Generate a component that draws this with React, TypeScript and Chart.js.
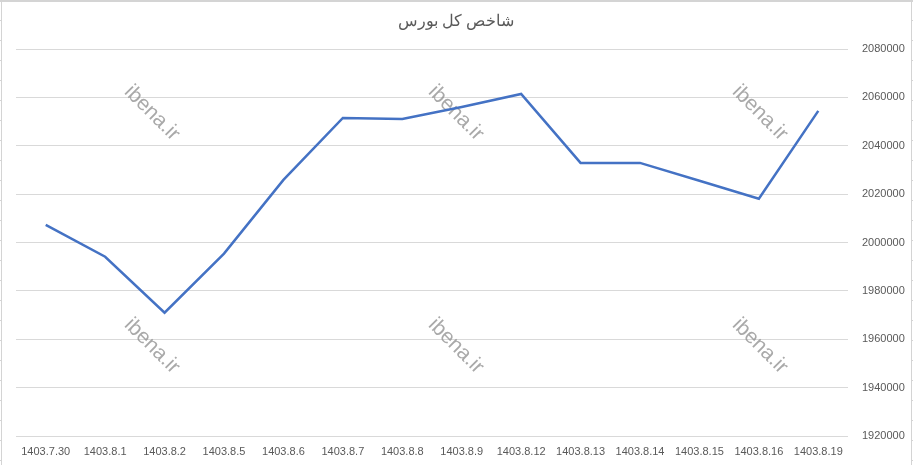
import React, { useEffect, useRef } from "react";
import { Chart, registerables } from "chart.js";

Chart.register(...registerables);

const categories = [
  "1403.7.30", "1403.8.1", "1403.8.2", "1403.8.5", "1403.8.6", "1403.8.7", "1403.8.8",
  "1403.8.9", "1403.8.12", "1403.8.13", "1403.8.14", "1403.8.15", "1403.8.16", "1403.8.19",
];
const indexValues = [
  2007300, 1994100, 1971000, 1995400, 2025900, 2051500, 2051100,
  2056000, 2061400, 2032900, 2032900, 2025500, 2018100, 2054400,
];
const chartTitle = "شاخص کل بورس";
const watermarkText = "ibena.ir";
const yMin = 1920000;
const yMax = 2080000;
const yStep = 20000;

const FONT = "'Liberation Sans', Arial, sans-serif";

const decorPlugin = {
  id: "decor",
  beforeDatasetsDraw(chart: any) {
    const ctx = chart.ctx;
    const spots = [
      [152, 113], [456, 113], [760, 113],
      [152, 346], [456, 346], [760, 346],
    ];
    ctx.save();
    ctx.fillStyle = "rgba(140,140,140,0.75)";
    ctx.font = `21px ${FONT}`;
    ctx.textAlign = "center";
    ctx.textBaseline = "middle";
    for (const [x, y] of spots) {
      ctx.save();
      ctx.translate(x, y);
      ctx.rotate(Math.PI / 4);
      ctx.fillText(watermarkText, 0, 0);
      ctx.restore();
    }
    ctx.restore();
  },
  afterDraw(chart: any) {
    const ctx = chart.ctx;
    const w = chart.width;
    const h = chart.height;
    ctx.save();
    // title
    ctx.fillStyle = "#595959";
    ctx.font = `16px ${FONT}`;
    ctx.textAlign = "center";
    ctx.textBaseline = "middle";
    ctx.fillText(chartTitle, 456, 22);
    // sheet border
    ctx.strokeStyle = "#d4d4d4";
    ctx.lineWidth = 2;
    ctx.beginPath();
    ctx.moveTo(0, 1);
    ctx.lineTo(w, 1);
    ctx.stroke();
    ctx.lineWidth = 1;
    ctx.beginPath();
    ctx.moveTo(1.5, 0);
    ctx.lineTo(1.5, h);
    ctx.moveTo(w - 1.5, 0);
    ctx.lineTo(w - 1.5, h);
    for (let y = 20.5; y < h; y += 20) {
      ctx.moveTo(0, y);
      ctx.lineTo(2, y);
      ctx.moveTo(w - 2, y);
      ctx.lineTo(w, y);
    }
    ctx.stroke();
    ctx.restore();
  },
};

export default function App() {
  const ref = useRef<HTMLCanvasElement | null>(null);

  useEffect(() => {
    if (!ref.current) return;
    const chart = new Chart(ref.current, {
      type: "line",
      data: {
        labels: categories,
        datasets: [
          {
            data: indexValues,
            borderColor: "#4472C4",
            borderWidth: 2.5,
            pointRadius: 0,
            pointHoverRadius: 0,
            tension: 0,
            fill: false,
          },
        ],
      },
      options: {
        animation: false,
        responsive: false,
        maintainAspectRatio: false,
        layout: { padding: { left: 16, right: 0, top: 49, bottom: 0 } },
        plugins: {
          legend: { display: false },
          tooltip: { enabled: false },
          title: { display: false },
        },
        scales: {
          x: {
            offset: true,
            grid: { display: false, drawTicks: false, offset: true },
            border: { display: false },
            ticks: {
              color: "#595959",
              font: { size: 11, family: FONT },
              padding: 9,
              maxRotation: 0,
              autoSkip: false,
            },
            afterFit(axis: any) {
              axis.height = 29;
            },
          },
          y: {
            position: "right",
            min: yMin,
            max: yMax,
            grid: { color: "#d9d9d9", lineWidth: 1, drawTicks: false },
            border: { display: false },
            ticks: {
              stepSize: yStep,
              color: "#595959",
              font: { size: 11, family: FONT },
              padding: 14,
              callback: (v: any) => String(v),
            },
            afterFit(axis: any) {
              axis.width = 65;
            },
          },
        },
      },
      plugins: [decorPlugin],
    });
    return () => chart.destroy();
  }, []);

  return (
    <div style={{ position: "absolute", left: 0, top: 0, width: 913, height: 465, background: "#fff" }}>
      <canvas ref={ref} width={913} height={465} style={{ display: "block" }} />
    </div>
  );
}
